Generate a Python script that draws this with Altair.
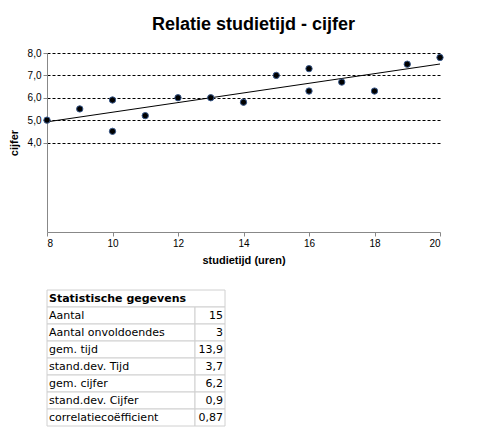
import pandas as pd
import altair as alt

# studietijd (uren) and cijfer per student
tijd = [8, 9, 10, 10, 11, 12, 13, 14, 15, 16, 16, 17, 18, 19, 20]
cijfer = [5.0, 5.5, 5.9, 4.5, 5.2, 6.0, 6.0, 5.8, 7.0, 7.3, 6.3, 6.7, 6.3, 7.5, 7.8]

stat_labels = ['Aantal', 'Aantal onvoldoendes', 'gem. tijd', 'stand.dev. Tijd',
               'gem. cijfer', 'stand.dev. Cijfer', 'correlatiecoëfficient']
stat_values = ['15', '3', '13,9', '3,7', '6,2', '0,9', '0,87']

df = pd.DataFrame({'studietijd': tijd, 'cijfer': cijfer})
font = 'Liberation Sans'

base = alt.Chart(df)
points = base.mark_circle(size=40, color='black', opacity=1, stroke='#3a5a8c', strokeWidth=1).encode(
    x=alt.X('studietijd:Q', title='studietijd (uren)', scale=alt.Scale(domain=[8, 20], nice=False),
            axis=alt.Axis(values=list(range(8, 21)), grid=False, tickSize=4, titleFontWeight='bold',
                          labelOverlap=False, labelFontSize=10, titlePadding=6,
                          labelFont=font, titleFont=font, labelColor='black', titleColor='black',
                          domainColor='#888', tickColor='#888')),
    y=alt.Y('cijfer:Q', title='cijfer', scale=alt.Scale(domain=[4, 8], nice=False),
            axis=alt.Axis(values=[4, 4.5, 5, 5.5, 6, 6.5, 7, 7.5, 8], tickSize=4,
                          labelExpr="replace(format(datum.value, '.1f'), '.', ',')",
                          labelOverlap=False, labelFontSize=10, titlePadding=8,
                          gridColor='black', gridDash=[3, 2], titleFontWeight='bold',
                          labelFont=font, titleFont=font, labelColor='black', titleColor='black',
                          domainColor='#888', tickColor='#888'))
)
trend = base.transform_regression('studietijd', 'cijfer', extent=[8, 20]).mark_line(
    color='black', strokeWidth=1).encode(x='studietijd:Q', y='cijfer:Q')

top = (trend + points).properties(
    width=393, height=179,
    title=alt.TitleParams('Relatie  studietijd - cijfer', font=font, fontSize=18,
                          fontWeight='bold', color='black', offset=14, dx=10)
)

rows = pd.DataFrame({'row': list(range(1, 8)), 'label': stat_labels, 'value': stat_values})
header = pd.DataFrame({'row': [0], 'label': ['Statistische gegevens']})
yenc = alt.Y('row:O', axis=None, scale=alt.Scale(domain=list(range(8)), paddingInner=0, paddingOuter=0))

cell_l = alt.Chart(rows).mark_rect(fill='white', stroke='#d0d0d0').encode(
    y=yenc, x=alt.value(0), x2=alt.value(148))
cell_r = alt.Chart(rows).mark_rect(fill='white', stroke='#d0d0d0').encode(
    y=yenc, x=alt.value(148), x2=alt.value(178))
cell_h = alt.Chart(header).mark_rect(fill='white', stroke='#d0d0d0').encode(
    y=yenc, x=alt.value(0), x2=alt.value(178))
txt_l = alt.Chart(rows).mark_text(align='left', font='DejaVu Sans', fontSize=11).encode(
    y=yenc, x=alt.value(2), text='label:N')
txt_r = alt.Chart(rows).mark_text(align='right', font='DejaVu Sans', fontSize=11).encode(
    y=yenc, x=alt.value(176), text='value:N')
txt_h = alt.Chart(header).mark_text(align='left', font='DejaVu Sans', fontSize=11,
                                    fontWeight='bold').encode(y=yenc, x=alt.value(2), text='label:N')

table = alt.layer(cell_h, cell_l, cell_r, txt_h, txt_l, txt_r).properties(width=178, height=136)

chart = alt.vconcat(top, table, spacing=24).resolve_scale(
    x='independent', y='independent').configure_view(stroke=None).properties(
    padding={'left': 0, 'top': 8, 'right': 0, 'bottom': 0})

chart.save("out.html", embed_options={"renderer": "svg", "actions": False})
